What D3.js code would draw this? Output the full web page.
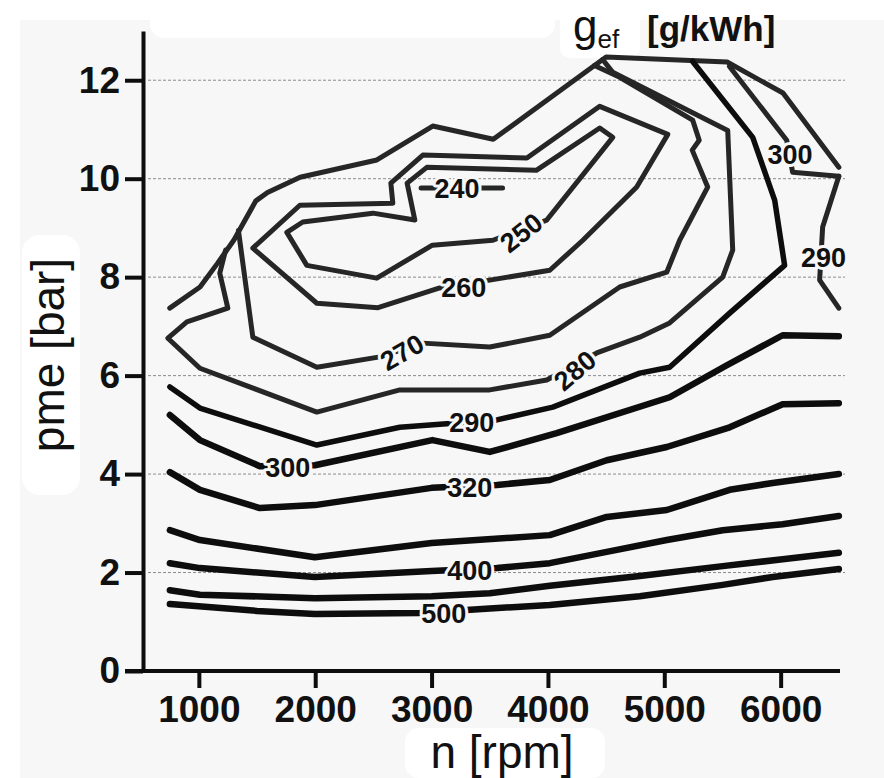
<!DOCTYPE html>
<html>
<head>
<meta charset="utf-8">
<script src="https://cdn.jsdelivr.net/npm/d3@7"></script>
<style>
  html, body { margin: 0; padding: 0; background: #f7f7f7; }
  svg { display: block; font-family: "Liberation Sans", Arial, sans-serif; }
</style>
</head>
<body>
<div id="chart"></div>
<script>
// axis ticks
const rpmTicks = [1000, 2000, 3000, 4000, 5000, 6000];
const pmeTicks = [0, 2, 4, 6, 8, 10, 12];
const gridValues = [2, 4, 6, 8, 10, 12];

// [rpm, bar] vertices
const fullLoad = [[750, 7.37], [1010, 7.8], [1160, 8.28], [1300, 8.75], [1490, 9.55], [1590, 9.72], [1870, 10.03], [2530, 10.38], [3010, 11.07], [3530, 10.8], [4500, 12.47], [5540, 12.37], [6020, 11.74], [6500, 10.23]];
const c240 = [[2910, 9.81], [3610, 9.81]];
const c250 = [[3990, 9.16], [4557, 10.84], [4445, 11.03], [3900, 10.17], [2959, 10.23], [2790, 9.91], [2856, 9.16], [2496, 9.3], [1893, 9.12], [1756, 8.91], [1928, 8.24], [2529, 7.98], [3007, 8.65], [3527, 8.75], [3990, 9.16]];
const c260 = [[1464, 8.59], [1868, 9.46], [2667, 9.5], [2650, 9.91], [2925, 10.48], [3819, 10.42], [4445, 11.47], [5030, 10.9], [4763, 9.83], [4300, 8.75], [4016, 8.14], [3500, 7.94], [3070, 7.78], [2540, 7.38], [2014, 7.47], [1464, 8.59]];
const c270 = [[1340, 8.95], [1464, 6.78], [2014, 6.17], [2555, 6.38], [2925, 6.66], [3500, 6.58], [4016, 6.82], [4617, 7.8], [5021, 8.1], [5132, 8.75], [5373, 9.83], [5240, 10.58], [5300, 10.78], [5244, 11.19], [4617, 12.06], [4400, 12.3]];
const c280 = [[1230, 8.55], [1180, 8.08], [1249, 7.37], [897, 7.09], [734, 6.76], [1009, 6.15], [2014, 5.26], [2727, 5.71], [3500, 5.71], [3990, 5.91], [4420, 6.46], [4789, 6.78], [5046, 7.07], [5502, 8.0], [5588, 8.55], [5545, 10.98], [4557, 12.16], [4470, 12.42]];
const c290 = [[751, 5.77], [1009, 5.34], [2014, 4.59], [2727, 4.95], [3561, 5.1], [4042, 5.36], [4789, 6.05], [5046, 6.17], [5562, 7.27], [6034, 8.24], [5949, 9.56], [5760, 10.84], [5244, 12.38]];
const c290b = [[6500, 10.05], [6361, 9.02], [6335, 7.94], [6500, 7.37]];
const c300 = [[751, 5.2], [1009, 4.69], [1524, 4.16], [1997, 4.18], [3007, 4.69], [3500, 4.45], [4075, 4.83], [5046, 5.56], [5530, 6.2], [6017, 6.82], [6500, 6.8]];
const c300b = [[5560, 12.28], [6052, 10.78], [6103, 10.13], [6500, 10.05]];
const c320 = [[751, 4.04], [1009, 3.68], [1524, 3.31], [1997, 3.37], [3000, 3.72], [3561, 3.78], [4016, 3.88], [4505, 4.28], [5021, 4.55], [5562, 4.95], [6017, 5.42], [6500, 5.44]];
const c350 = [[751, 2.86], [1009, 2.66], [1997, 2.31], [3000, 2.6], [4016, 2.76], [4505, 3.13], [5021, 3.27], [5562, 3.68], [5932, 3.82], [6500, 4.0]];
const c400 = [[751, 2.19], [1009, 2.09], [1997, 1.91], [3000, 2.03], [3561, 2.09], [4016, 2.19], [4505, 2.42], [5021, 2.66], [5502, 2.86], [6017, 2.98], [6500, 3.15]];
const c450 = [[751, 1.64], [1009, 1.55], [1997, 1.48], [3000, 1.52], [3500, 1.58], [4016, 1.73], [4789, 1.93], [5502, 2.13], [6017, 2.27], [6500, 2.4]];
const c500 = [[751, 1.36], [1500, 1.22], [1997, 1.16], [2900, 1.18], [3500, 1.27], [4016, 1.34], [4789, 1.52], [5502, 1.75], [5932, 1.91], [6500, 2.07]];

// label text, rpm, bar
const contourLabels = [
  ["240", 3218, 9.81], ["250", 3769, 8.91], ["260", 3277, 7.8], ["270", 2744, 6.48],
  ["280", 4230, 6.11], ["290", 3345, 5.06], ["300", 1764, 4.14], ["320", 3328, 3.74],
  ["400", 3328, 2.05], ["500", 3105, 1.18], ["300", 6080, 10.5], ["290", 6369, 8.41],
];

class FuelMap {
  constructor({ el }) {
    this.el = el;
    this.init();
  }

  init() {
    this.width = 884;
    this.height = 778;
    this.bg = "#f7f7f7";

    this.x = d3.scaleLinear().domain([520, 6510]).range([143, 840]);
    this.y = d3.scaleLinear().domain([0, 13]).range([671, 31]);
    this.line = d3
      .line()
      .x((d) => this.x(d[0]))
      .y((d) => this.y(d[1]));

    this.upper = [fullLoad, c240, c250, c260, c270, c280, c290b, c300b];
    this.lower = [c290, c300, c320, c350, c400, c450, c500];

    this.scaffold();
    this.renderGrid();
    this.renderContours();
    this.renderLabels();
    this.renderXAxis();
    this.renderYAxis();
    this.renderTitles();
  }

  scaffold() {
    this.svg = d3
      .select(this.el)
      .append("svg")
      .attr("width", this.width)
      .attr("height", this.height)
      .attr("viewBox", [0, 0, this.width, this.height]);

    // white patches of the scanned page
    this.svg
      .append("g")
      .attr("fill", "#fff")
      .call((g) => g.append("rect").attr("width", this.width).attr("height", 20))
      .call((g) => g.append("rect").attr("width", 20).attr("height", this.height))
      .call((g) => g.append("rect").attr("x", 22).attr("y", 235).attr("width", 58).attr("height", 260).attr("rx", 18))
      .call((g) => g.append("rect").attr("x", 560).attr("y", 0).attr("width", 80).attr("height", 58).attr("rx", 10))
      .call((g) => g.append("rect").attr("x", 150).attr("y", 0).attr("width", 405).attr("height", 38).attr("rx", 14))
      .call((g) => g.append("rect").attr("x", 405).attr("y", 728).attr("width", 200).attr("height", 50).attr("rx", 14));

    this.gGrid = this.svg.append("g").attr("class", "grid");
    this.gLines = this.svg.append("g").attr("class", "contours");
    this.gLabels = this.svg.append("g").attr("class", "contour-labels");
    this.gX = this.svg.append("g").attr("class", "axis axis--x");
    this.gY = this.svg.append("g").attr("class", "axis axis--y");
  }

  renderGrid() {
    this.gGrid
      .selectAll("line")
      .data(gridValues)
      .join("line")
      .attr("x1", this.x.range()[0] + 5)
      .attr("x2", this.x.range()[1] + 5)
      .attr("y1", (d) => this.y(d))
      .attr("y2", (d) => this.y(d))
      .attr("stroke", "#8c8c8c")
      .attr("stroke-width", 1)
      .attr("stroke-dasharray", "3,2");
  }

  renderContours() {
    this.gLines
      .selectAll(".upper")
      .data(this.upper)
      .join("path")
      .attr("class", "upper")
      .attr("d", this.line)
      .attr("fill", "none")
      .attr("stroke", "#262626")
      .attr("stroke-width", 5)
      .attr("stroke-linejoin", "round")
      .attr("stroke-linecap", "round");

    this.gLines
      .selectAll(".lower")
      .data(this.lower)
      .join("path")
      .attr("class", "lower")
      .attr("d", this.line)
      .attr("fill", "none")
      .attr("stroke", "#0d0d0d")
      .attr("stroke-width", (d) => (d === c290 ? 5.5 : 6.5))
      .attr("stroke-linejoin", "round")
      .attr("stroke-linecap", "round");
  }

  renderLabels() {
    const angle = { 250: -38, 270: -30, 280: -40 };
    this.gLabels
      .selectAll("text")
      .data(contourLabels)
      .join("text")
      .attr("transform", (d) => {
        const a = d[2] > 8.3 && d[0] !== "250" ? 0 : angle[d[0]] || 0;
        return `translate(${this.x(d[1])},${this.y(d[2])})rotate(${a})`;
      })
      .attr("text-anchor", "middle")
      .attr("dy", "0.36em")
      .attr("font-size", 27)
      .attr("font-weight", "bold")
      .attr("fill", "#111")
      .attr("stroke", this.bg)
      .attr("stroke-width", 6)
      .attr("stroke-linejoin", "round")
      .attr("paint-order", "stroke")
      .text((d) => d[0]);
  }

  renderXAxis() {
    const x0 = this.x.range()[0];
    this.gX
      .attr("transform", `translate(0,${this.y(0)})`)
      .call(
        d3
          .axisBottom(this.x)
          .tickValues(rpmTicks)
          .tickSize(17)
          .tickPadding(8)
          .tickSizeOuter(0)
          .tickFormat(d3.format("d"))
      )
      .attr("font-size", null)
      .attr("font-family", null)
      .call((g) =>
        g.select(".domain").attr("d", `M${x0 - 18},0H${this.x.range()[1]}`)
      )
      .call((g) => g.selectAll("path, line").attr("stroke", "#0d0d0d").attr("stroke-width", 4))
      .call((g) =>
        g
          .selectAll("text")
          .attr("fill", "#111")
          .attr("font-size", 37)
          .attr("font-weight", "bold")
      );
  }

  renderYAxis() {
    this.gY
      .attr("transform", `translate(${this.x.range()[0]},0)`)
      .call(
        d3
          .axisLeft(this.y)
          .tickValues(pmeTicks)
          .tickSize(18)
          .tickPadding(5)
          .tickSizeOuter(0)
      )
      .attr("font-size", null)
      .attr("font-family", null)
      .call((g) => g.selectAll("path, line").attr("stroke", "#0d0d0d").attr("stroke-width", 4))
      .call((g) =>
        g
          .selectAll("text")
          .attr("fill", "#111")
          .attr("font-size", 37)
          .attr("font-weight", "bold")
      );
  }

  renderTitles() {
    this.svg
      .append("text")
      .attr("transform", `translate(64,355)rotate(-90)`)
      .attr("text-anchor", "middle")
      .attr("font-size", 46)
      .attr("fill", "#111")
      .text("pme [bar]");

    this.svg
      .append("text")
      .attr("x", 502)
      .attr("y", 768)
      .attr("text-anchor", "middle")
      .attr("font-size", 46)
      .attr("fill", "#111")
      .text("n [rpm]");

    this.svg
      .append("text")
      .attr("x", 573)
      .attr("y", 41)
      .attr("fill", "#111")
      .call((t) => t.append("tspan").attr("font-size", 44).text("g"))
      .call((t) => t.append("tspan").attr("font-size", 26).attr("dy", 7).text("ef"));

    this.svg
      .append("text")
      .attr("x", 647)
      .attr("y", 41)
      .attr("fill", "#111")
      .attr("font-size", 35)
      .attr("font-weight", "bold")
      .text("[g/kWh]");
  }
}

new FuelMap({ el: document.getElementById("chart") });
</script>
</body>
</html>
